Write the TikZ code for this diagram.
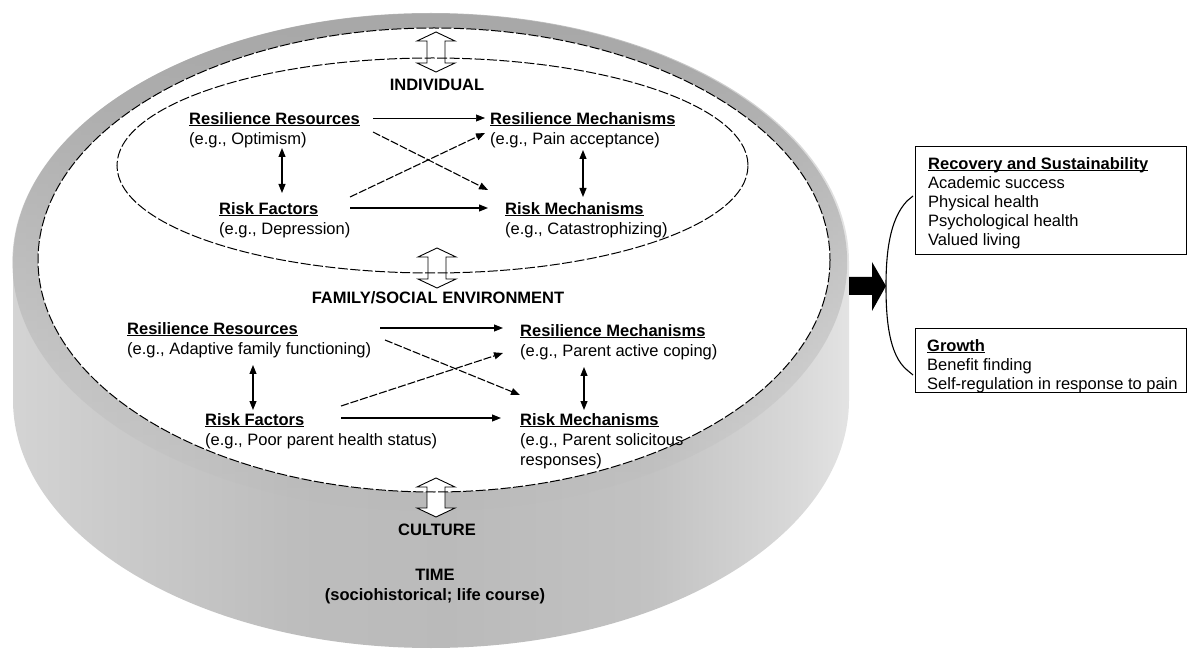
\documentclass[tikz,border=0pt]{standalone}
\usepackage{fontspec}
\setmainfont{Liberation Sans}
\usetikzlibrary{arrows.meta,calc,fadings}
\newsavebox\ulbox
\newcommand\myul[1]{\sbox\ulbox{#1}\rlap{\rule[-2.2pt]{\wd\ulbox}{1.1pt}}\usebox\ulbox}
\newcommand\ttl[1]{\myul{\textbf{#1}}}
\newcommand\hollowarrow[3]{%
  \draw[harrow] (#1,#2) -- (#1+19,#2+9) -- (#1+9,#2+9) -- (#1+9,#3-9) -- (#1+19,#3-9)
   -- (#1,#3) -- (#1-19,#3-9) -- (#1-9,#3-9) -- (#1-9,#2+9) -- (#1-19,#2+9) -- cycle;}
\pgfdeclarehorizontalshading{cylside}{100bp}{color(0bp)=(black!17); color(25bp)=(black!17); color(30bp)=(black!20); color(42bp)=(black!26); color(51bp)=(black!27); color(63bp)=(black!24); color(72bp)=(black!15); color(75bp)=(black!11); color(100bp)=(black!11)}
\tikzfading[name=rimfade, top color=transparent!0, middle color=transparent!45, bottom color=transparent!100]
\tikzset{
  ent/.style={anchor=north west, inner sep=0pt, align=left},
  lbl/.style={inner sep=0pt, font=\fontsize{16.5}{20}\selectfont\bfseries},
  arr/.style={line width=1.1pt, -{Triangle[length=9pt,width=7pt]}},
  darr/.style={line width=1.1pt, {Triangle[length=9pt,width=7pt]}-{Triangle[length=9pt,width=7pt]}},
  dsh/.style={dash pattern=on 8pt off 2pt},
  harrow/.style={draw=black, fill=white, line width=0.9pt, line join=miter},
  ell/.style={line width=1pt, dash pattern=on 10pt off 2.5pt},
  rbox/.style={draw, line width=1.1pt, anchor=north west, inner sep=0pt},
  rtxt/.style={anchor=north west, inner sep=0pt, align=left, font=\fontsize{16.5}{19}\selectfont}
}
\begin{document}
\begin{tikzpicture}[x=1pt, y=-1pt, font=\fontsize{16.5}{20}\selectfont]
\useasboundingbox (0,0) rectangle (1192,652);
% cylinder silhouette
\shade[shading=cylside]
  (13,262) arc[start angle=180, end angle=360, x radius=418, y radius=249]
  -- (849,400) arc[start angle=0, end angle=180, x radius=418, y radius=248] -- cycle;
% rim (darker toward the top)
\fill[black!34, path fading=rimfade] (431,262) ellipse[x radius=418, y radius=249];
% top face
\fill[white] (434,260) ellipse[x radius=396, y radius=232];
% hollow arrows
\hollowarrow{436}{32}{72}
\hollowarrow{437}{248}{288}
\hollowarrow{436}{478}{517}
% ellipse outlines
\draw[ell] (434,260) ellipse[x radius=396, y radius=232];
\draw[ell] (432.5,165.5) ellipse[x radius=315.5, y radius=107.5];

% labels
\node[lbl] (ind) at (437,85) {INDIVIDUAL};
\node[lbl] (fam) at (438,298) {FAMILY/SOCIAL ENVIRONMENT};
\node[lbl] (cul) at (437,530) {CULTURE};
\node[lbl, align=center] (time) at (435,587) {TIME\\(sociohistorical; life course)};

% individual level
\node[ent] (iRR) at (189,112) {\ttl{Resilience Resources}\\(e.g., Optimism)};
\node[ent] (iRM) at (490,112) {\ttl{Resilience Mechanisms}\\(e.g., Pain acceptance)};
\node[ent] (iRF) at (219,202) {\ttl{Risk Factors}\\(e.g., Depression)};
\node[ent] (iKM) at (505,202) {\ttl{Risk Mechanisms}\\(e.g., Catastrophizing)};

\draw[arr, line width=0.7pt] ($(iRR.north west)+(184,6)$) -- ($(iRM.north west)+(-5,6)$);
\draw[arr, dsh] ($(iRR.north west)+(184,20)$) -- ($(iKM.north west)+(-17,-12)$);
\draw[arr, dsh] ($(iRF.north west)+(131,-5)$) -- ($(iRM.north west)+(-5,21)$);
\draw[arr] ($(iRF.north west)+(131,6)$) -- ($(iKM.north west)+(-17,6)$);
\draw[darr] ($(iRR.north west)+(93,36)$) -- ($(iRF.north west)+(63,-9)$);
\draw[darr] ($(iRM.north west)+(93,38)$) -- ($(iKM.north west)+(78,-5)$);

% family level
\node[ent] (fRR) at (127,322) {\ttl{Resilience Resources}\\(e.g., Adaptive family functioning)};
\node[ent] (fRM) at (520,324) {\ttl{Resilience Mechanisms}\\(e.g., Parent active coping)};
\node[ent] (fRF) at (205,413) {\ttl{Risk Factors}\\(e.g., Poor parent health status)};
\node[ent] (fKM) at (520,413) {\ttl{Risk Mechanisms}\\(e.g., Parent solicitous\\responses)};

\draw[arr] ($(fRR.north west)+(253,6)$) -- ($(fRM.north west)+(-17,4)$);
\draw[arr, dsh] ($(fRR.north west)+(258,18)$) -- ($(fKM.north west)+(0,-18)$);
\draw[arr, dsh] ($(fRF.north west)+(136,-7)$) -- ($(fRM.north west)+(-17,29)$);
\draw[arr] ($(fRF.north west)+(136,5)$) -- ($(fKM.north west)+(-19,5)$);
\draw[darr] ($(fRR.north west)+(126,43)$) -- ($(fRF.north west)+(48,-3)$);
\draw[darr] ($(fRM.north west)+(64,43)$) -- ($(fKM.north west)+(64,-3)$);

% outcomes
\node[rbox, minimum width=271pt, minimum height=108pt] (box1) at (915,146) {};
\node[rtxt] (t1) at (928,157) {\myul{\textbf{Recovery and Sustainability}}\\Academic success\\Physical health\\Psychological health\\Valued living};
\node[rbox, minimum width=271pt, minimum height=64pt] (box2) at (915,328) {};
\node[rtxt] (t2) at (927,339) {\myul{\textbf{Growth}}\\Benefit finding\\Self-regulation in response to pain};

% bracket and big arrow
\coordinate (bt) at (913,196);
\coordinate (bb) at (913,375);
\coordinate (bm) at (886,286);
\draw[line width=1.1pt] (bt) -- ++(-6,5) .. controls (889,220) and (886,255) .. (bm)
  .. controls (886,320) and (889,355) .. (907,370) -- (bb);
\fill (849,277) -- (872,277) -- (872,262) -- (bm) -- (872,311) -- (872,295) -- (849,295) -- cycle;
\end{tikzpicture}
\end{document}
